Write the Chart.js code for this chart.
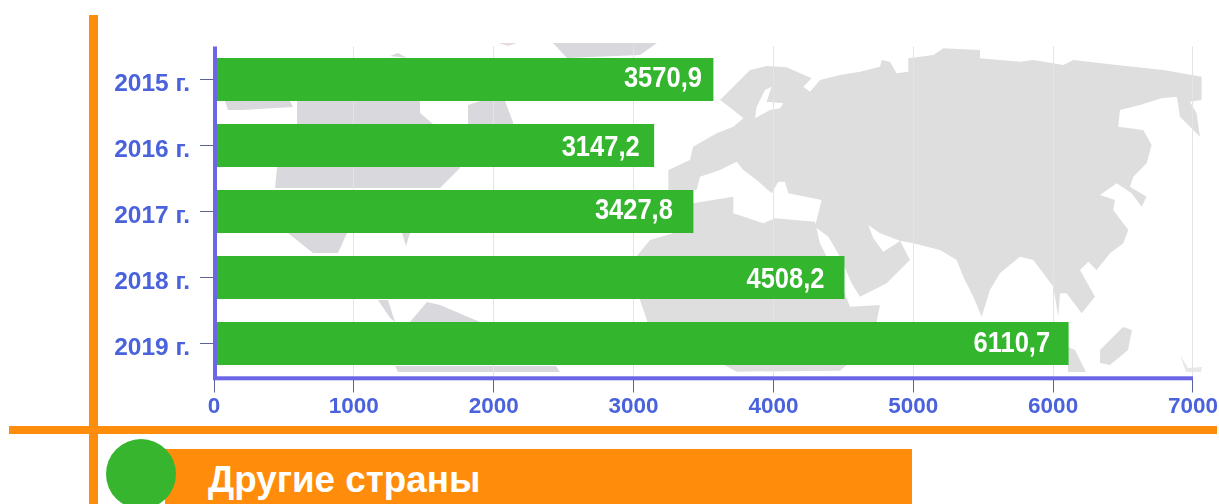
<!DOCTYPE html>
<html lang="ru">
<head>
<meta charset="utf-8">
<title>Другие страны</title>
<script src="https://cdn.jsdelivr.net/npm/chart.js@4"></script>
<style>
html,body{margin:0;padding:0;background:#fff;overflow:hidden}
#stage{position:relative;width:1219px;height:504px;overflow:hidden}
#stage>*{position:absolute}
#map{left:0;top:0}
#c{left:0;top:0}
.o{background:#ff8c0a}
#title{left:208px;top:458px;font:bold 36.8px "Liberation Sans",Arial,sans-serif;color:#fff;white-space:nowrap;line-height:44px}
</style>
</head>
<body>
<div id="stage">
  <svg id="map" width="1219" height="504" viewBox="0 0 1219 504">
    <g fill="#dedede">
      <!-- Eurasia -->
      <polygon transform="translate(700,30) scale(.3333)" points="-95,480 -95,420 -30,390 -21,350 50,310 100,290 130,265 100,240 60,210 100,170 150,120 200,108 260,112 335,145 310,170 330,185 360,150 420,135 480,125 540,110 545,90 570,95 590,130 625,125 625,85 700,75 730,55 840,60 840,85 960,95 1000,90 1090,105 1120,90 1250,105 1390,120 1505,140 1505,210 1470,215 1490,250 1500,320 1480,300 1440,260 1435,225 1430,200 1385,205 1320,225 1260,240 1255,290 1330,300 1355,345 1340,400 1300,440 1290,470 1340,500 1325,530 1295,490 1250,460 1200,495 1245,510 1240,540 1285,600 1270,640 1230,670 1190,720 1165,695 1140,720 1185,800 1145,850 1100,790 1080,790 1075,860 1060,770 1000,690 960,680 900,730 870,780 845,860 820,800 790,740 770,690 720,660 640,640 600,632 630,690 560,760 480,800 455,760 420,680 385,620 345,590 365,510 265,490 255,455 235,455 215,490 170,450 130,420 110,395 60,420 0,440 -10,480"/>
      <polygon fill="#fff" transform="translate(700,30) scale(.3333)" points="505,585 520,625 550,665 590,640 600,632 540,610"/>
      <polygon fill="#fff" transform="translate(700,30) scale(.3333)" points="165,265 170,230 195,180 215,170 200,215 250,220 240,235 210,240"/>
      <!-- Africa -->
      <polygon transform="translate(700,30) scale(.3333)" points="-21,520 100,500 100,550 190,580 225,565 345,575 360,640 430,780 450,830 540,825 530,875 480,960 440,1005 420,1022 110,1025 -156,880 -180,810 -189,677 -150,630 -81,610"/>
      <!-- Islands and far south-east -->
      <polygon points="1100,363 1100,350 1123,327 1132,330 1128,350 1110,365"/>
      <polygon points="1068,347 1075,350 1086,372 1068,372"/>
      <polygon fill="#e8e8e8" points="1180,355 1188,368 1202,367 1201,372 1186,372"/>
      <!-- Americas and north -->
      <polygon fill="#d9d9dd" points="297,101 420,101 420,113 433,124 460,168 440,188 275,188 277,168 297,124"/>
      <polygon fill="#d9d9dd" points="225,101 290,101 293,107 243,110 228,110"/>
      <polygon fill="#d9d9dd" points="468,105 480,101 505,101 513,122 513,124 468,124"/>
      <polygon fill="#d9d9dd" points="288,233 347,233 338,253 313,253"/>
      <polygon fill="#d9d9dd" points="402,233 410,233 406,246"/>
      <polygon fill="#d9d9dd" points="378,300 388,300 395,322 390,318"/>
      <polygon fill="#d9d9dd" points="410,322 427,302 440,305 480,322"/>
      <polygon fill="#d9d9dd" points="395,366 556,366 560,372 398,372"/>
      <polygon fill="#d9d9dd" points="553,43 657,43 640,55 567,58"/>
      <polygon fill="#d9d9dd" points="390,56 398,53 407,58"/>
      <polygon fill="#e6dcdc" points="498,43 517,43 508,46"/>
    </g>
  </svg>
  <canvas id="c" width="1219" height="504"></canvas>
  <div class="o" style="left:89px;top:15px;width:9px;height:489px"></div>
  <div class="o" style="left:9px;top:426px;width:1208px;height:8px"></div>
  <div class="o" style="left:165px;top:449px;width:747px;height:55px"></div>
  <div style="left:106px;top:439px;width:70px;height:70px;border-radius:50%;background:#37b52f"></div>
  <div id="title">Другие страны</div>
</div>
<script>
const categories = ["2015 г.", "2016 г.", "2017 г.", "2018 г.", "2019 г."];
const values = [3570.9, 3147.2, 3427.8, 4508.2, 6110.7];
const xTicks = [0, 1000, 2000, 3000, 4000, 5000, 6000, 7000];
const labelInset = [11.5, 14.5, 20.5, 20, 18.5];
const labelShift = [-0.5, 2.5, -0.5, 2.5, 0.5];

const BLUE = "#4a62dc", AXIS = "#6a66e6", TICK = "#5a6296", GRID = "#e4e4e8", GREEN = "#34b52e";
const xFont = {family: '"Liberation Sans",Arial,sans-serif', size: 22.5, weight: "bold"};
const yFont = {family: '"Liberation Sans",Arial,sans-serif', size: 24.5, weight: "bold"};

const decor = {
  id: "decor",
  afterDatasetsDraw(chart) {
    const {ctx, chartArea: a} = chart;
    ctx.save();
    ctx.fillStyle = AXIS;
    ctx.fillRect(a.left - 1, a.bottom - 0.2, a.right - a.left + 1, 4);
    ctx.fillRect(a.left - 1, a.top, 4, a.bottom - a.top + 2);
    const meta = chart.getDatasetMeta(0);
    ctx.fillStyle = "#fff";
    ctx.textAlign = "right";
    ctx.textBaseline = "middle";
    ctx.font = 'bold 25.5px "Liberation Sans",Arial,sans-serif';
    meta.data.forEach((bar, i) => {
      ctx.save();
      ctx.translate(bar.x - labelInset[i], bar.y + labelShift[i]);
      ctx.scale(1, 1.12);
      ctx.fillText(values[i].toFixed(1).replace(".", ","), 0, 0);
      ctx.restore();
    });
    ctx.restore();
  }
};

new Chart(document.getElementById("c"), {
  type: "bar",
  data: {
    labels: categories,
    datasets: [{data: values, backgroundColor: GREEN, borderWidth: 0, categoryPercentage: 1, barPercentage: 0.65}]
  },
  options: {
    indexAxis: "y",
    responsive: false,
    animation: false,
    events: [],
    layout: {autoPadding: false, padding: {top: 46.5, right: 26, left: 0, bottom: 0}},
    plugins: {legend: {display: false}, tooltip: {enabled: false}, title: {display: false}},
    scales: {
      x: {
        type: "linear", min: 0, max: 7000,
        afterBuildTicks(s) { s.ticks = xTicks.map(v => ({value: v})); },
        afterFit(s) { s.height = 127.5; },
        border: {display: false},
        grid: {color: GRID, tickColor: TICK, tickLength: 16, lineWidth: 1},
        ticks: {color: BLUE, font: xFont, padding: 1, maxRotation: 0, autoSkip: false,
                callback: v => String(v)}
      },
      y: {
        afterFit(s) { s.width = 214; },
        border: {display: false},
        grid: {drawOnChartArea: false, offset: false, tickColor: TICK, tickLength: 14, lineWidth: 1},
        ticks: {color: BLUE, font: yFont, padding: 10, labelOffset: 5}
      }
    }
  },
  plugins: [decor]
});
</script>
</body>
</html>
